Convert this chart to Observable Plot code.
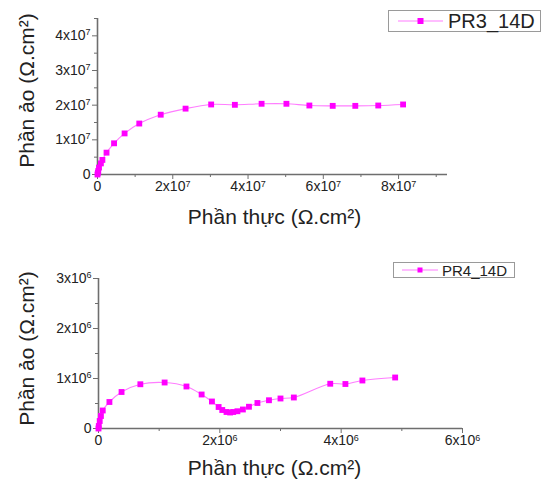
<!DOCTYPE html>
<html>
<head>
<meta charset="utf-8">
<script src="https://cdn.jsdelivr.net/npm/d3@7"></script>
<script src="https://cdn.jsdelivr.net/npm/@observablehq/plot@0.6"></script>
<style>
  body { margin: 0; background: #fff; font-family: "Liberation Sans", Arial, sans-serif; }
  #wrap { position: relative; width: 542px; height: 479px; overflow: hidden; }
  .panel { position: absolute; left: 0; }
  .legend { position: absolute; border: 1px solid #9a9a9a; background: #fff; box-sizing: border-box; display: flex; align-items: center; color: #222; }
</style>
</head>
<body>
<div id="wrap"></div>
<script>
// ---- PR3_14D (top panel) ----
const pr3Real = [0, 0.01e7, 0.02e7, 0.04e7, 0.09e7, 0.13e7, 0.24e7, 0.44e7, 0.72e7, 1.11e7, 1.68e7, 2.34e7, 3.02e7, 3.65e7, 4.36e7, 5.02e7, 5.63e7, 6.25e7, 6.85e7, 7.46e7, 8.12e7];
const pr3Imag = [0, 0.05e7, 0.1e7, 0.2e7, 0.32e7, 0.42e7, 0.63e7, 0.9e7, 1.185e7, 1.47e7, 1.725e7, 1.9e7, 2.02e7, 2.01e7, 2.04e7, 2.04e7, 1.99e7, 1.98e7, 1.98e7, 1.99e7, 2.02e7];
const pr3XTicks = [0, 2e7, 4e7, 6e7, 8e7];
const pr3XTickLabels = ["0", "2x10⁷", "4x10⁷", "6x10⁷", "8x10⁷"];
const pr3XMinor = [1e7, 3e7, 5e7, 7e7, 9e7];
const pr3YTicks = [0, 1e7, 2e7, 3e7, 4e7];
const pr3YTickLabels = ["0", "1x10⁷", "2x10⁷", "3x10⁷", "4x10⁷"];
const pr3YMinor = [0.5e7, 1.5e7, 2.5e7, 3.5e7, 4.5e7];

// ---- PR4_14D (bottom panel) ----
const pr4Real = [0, 0.005e6, 0.02e6, 0.04e6, 0.07e6, 0.18e6, 0.38e6, 0.69e6, 1.09e6, 1.45e6, 1.70e6, 1.87e6, 1.98e6, 2.04e6, 2.11e6, 2.17e6, 2.22e6, 2.29e6, 2.38e6, 2.48e6, 2.62e6, 2.81e6, 3.0e6, 3.22e6, 3.82e6, 4.07e6, 4.35e6, 4.89e6];
const pr4Imag = [0, 0.05e6, 0.15e6, 0.25e6, 0.36e6, 0.53e6, 0.73e6, 0.885e6, 0.92e6, 0.84e6, 0.68e6, 0.54e6, 0.43e6, 0.37e6, 0.33e6, 0.32e6, 0.33e6, 0.345e6, 0.38e6, 0.435e6, 0.51e6, 0.565e6, 0.6e6, 0.62e6, 0.895e6, 0.89e6, 0.96e6, 1.02e6];
const pr4XTicks = [0, 2e6, 4e6, 6e6];
const pr4XTickLabels = ["0", "2x10⁶", "4x10⁶", "6x10⁶"];
const pr4XMinor = [1e6, 3e6, 5e6];
const pr4YTicks = [0, 1e6, 2e6, 3e6];
const pr4YTickLabels = ["0", "1x10⁶", "2x10⁶", "3x10⁶"];
const pr4YMinor = [0.5e6, 1.5e6, 2.5e6];

const xTitle = "Phần thực (Ω.cm²)";
const yTitle = "Phần ảo (Ω.cm²)";
const seriesNames = ["PR3_14D", "PR4_14D"];

const lineColor = "#ff7dff";
const markColor = "#ff00ff";
const axisColor = "#6e6e6e";
const font = "Liberation Sans, Arial, sans-serif";
const supMap = {"⁰": "0", "¹": "1", "²": "2", "³": "3", "⁴": "4", "⁵": "5", "⁶": "6", "⁷": "7", "⁸": "8", "⁹": "9"};

function panel(cfg) {
  const data = cfg.xs.map((x, i) => ({x, y: cfg.ys[i]}));
  const xLab = new Map(cfg.xTicks.map((t, i) => [t, cfg.xLabels[i]]));
  const yLab = new Map(cfg.yTicks.map((t, i) => [t, cfg.yLabels[i]]));
  const svg = Plot.plot({
    width: 542,
    height: cfg.height,
    marginLeft: cfg.ml,
    marginRight: cfg.mr,
    marginTop: cfg.mt,
    marginBottom: cfg.mb,
    style: {fontFamily: font, background: "transparent", overflow: "visible"},
    x: {domain: cfg.xDomain, label: null},
    y: {domain: cfg.yDomain, label: null},
    marks: [
      Plot.axisX(cfg.xMinor, {tickSize: 3, fill: "none", stroke: axisColor, strokeWidth: 1, label: null}),
      Plot.axisX(cfg.xTicks, {tickSize: 5, tickPadding: 2, stroke: axisColor, strokeWidth: 1, fill: "#222", fontSize: 14, label: null, tickFormat: d => xLab.get(d)}),
      Plot.axisY(cfg.yMinor, {tickSize: 3, fill: "none", stroke: axisColor, strokeWidth: 1, label: null}),
      Plot.axisY(cfg.yTicks, {tickSize: 5, tickPadding: 2, stroke: axisColor, strokeWidth: 1, fill: "#222", fontSize: 14, label: null, tickFormat: d => yLab.get(d)}),
      Plot.ruleX([cfg.xDomain[0]], {stroke: axisColor, strokeWidth: 1.6}),
      Plot.ruleY([cfg.yDomain[0]], {stroke: axisColor, strokeWidth: 1.6}),
      Plot.line(data, {x: "x", y: "y", stroke: lineColor, strokeWidth: 1.1, curve: "catmull-rom"}),
      Plot.dot(data, {x: "x", y: "y", symbol: "square", r: 3.3, fill: markColor, stroke: "none"}),
      Plot.text([xTitle], {text: d => d, frameAnchor: "bottom", textAnchor: "middle", lineAnchor: "middle", dx: cfg.xTitleDx, dy: cfg.xTitleDy, fontSize: 21, fill: "#222"}),
      Plot.text([yTitle], {text: d => d, frameAnchor: "left", textAnchor: "middle", lineAnchor: "middle", rotate: -90, dx: cfg.yTitleDx, dy: cfg.yTitleDy, fontSize: 21, fill: "#222"})
    ]
  });
  // render tick-label exponents as raised smaller digits
  d3.select(svg).selectAll("text").each(function() {
    const el = d3.select(this);
    const tgt = el.selectAll("tspan").empty() ? el : el.select("tspan");
    const s = tgt.text();
    const m = s.match(/^(.*x10)([⁰¹²³⁴⁵⁶⁷⁸⁹]+)$/);
    if (!m) return;
    tgt.text(m[1]);
    tgt.append("tspan").attr("font-size", 9).attr("dy", "-0.55em").text([...m[2]].map(c => supMap[c]).join(""));
  });
  return svg;
}

const wrap = document.getElementById("wrap");

const topPanel = panel({
  xs: pr3Real, ys: pr3Imag, height: 240, ml: 97, mr: 95, mt: 18, mb: 66,
  xDomain: [0, 9.3e7], yDomain: [0, 4.5e7],
  xTicks: pr3XTicks, xLabels: pr3XTickLabels, xMinor: pr3XMinor.filter(v => v <= 9.3e7),
  yTicks: pr3YTicks, yLabels: pr3YTickLabels, yMinor: pr3YMinor,
  xTitleDx: 2, xTitleDy: 43, yTitleDx: -70, yTitleDy: -6
});
topPanel.classList.add("panel");
topPanel.style.top = "0px";
wrap.appendChild(topPanel);

const bottomPanel = panel({
  xs: pr4Real, ys: pr4Imag, height: 239, ml: 98, mr: 80, mt: 38, mb: 51,
  xDomain: [0, 6e6], yDomain: [0, 3e6],
  xTicks: pr4XTicks, xLabels: pr4XTickLabels, xMinor: pr4XMinor,
  yTicks: pr4YTicks, yLabels: pr4YTickLabels, yMinor: pr4YMinor,
  xTitleDx: -6, xTitleDy: 40, yTitleDx: -71, yTitleDy: -5
});
bottomPanel.classList.add("panel");
bottomPanel.style.top = "240px";
wrap.appendChild(bottomPanel);

function legend(name, box, fontSize) {
  const d = document.createElement("div");
  d.className = "legend";
  Object.assign(d.style, {left: box.left + "px", top: box.top + "px", width: box.w + "px", height: box.h + "px", fontSize: fontSize + "px"});
  const ns = "http://www.w3.org/2000/svg";
  const svg = document.createElementNS(ns, "svg");
  svg.setAttribute("width", box.sw);
  svg.setAttribute("height", box.h - 2);
  svg.style.flex = "none";
  const ln = document.createElementNS(ns, "line");
  ln.setAttribute("x1", box.l1); ln.setAttribute("x2", box.l2);
  ln.setAttribute("y1", (box.h - 2) / 2); ln.setAttribute("y2", (box.h - 2) / 2);
  ln.setAttribute("stroke", lineColor); ln.setAttribute("stroke-width", 1.1);
  svg.appendChild(ln);
  const sq = document.createElementNS(ns, "rect");
  const s = box.ms;
  sq.setAttribute("x", (box.l1 + box.l2) / 2 - s / 2); sq.setAttribute("y", (box.h - 2) / 2 - s / 2);
  sq.setAttribute("width", s); sq.setAttribute("height", s); sq.setAttribute("fill", markColor);
  svg.appendChild(sq);
  d.appendChild(svg);
  const t = document.createElement("span");
  t.textContent = name;
  t.style.marginLeft = box.gap + "px";
  t.style.lineHeight = "1";
  d.appendChild(t);
  wrap.appendChild(d);
}

legend(seriesNames[0], {left: 388, top: 10, w: 153, h: 22, sw: 56, l1: 9, l2: 54, ms: 6, gap: 3}, 20);
legend(seriesNames[1], {left: 393, top: 262, w: 122, h: 16, sw: 46, l1: 8, l2: 44, ms: 5, gap: 2}, 15);
</script>
</body>
</html>
